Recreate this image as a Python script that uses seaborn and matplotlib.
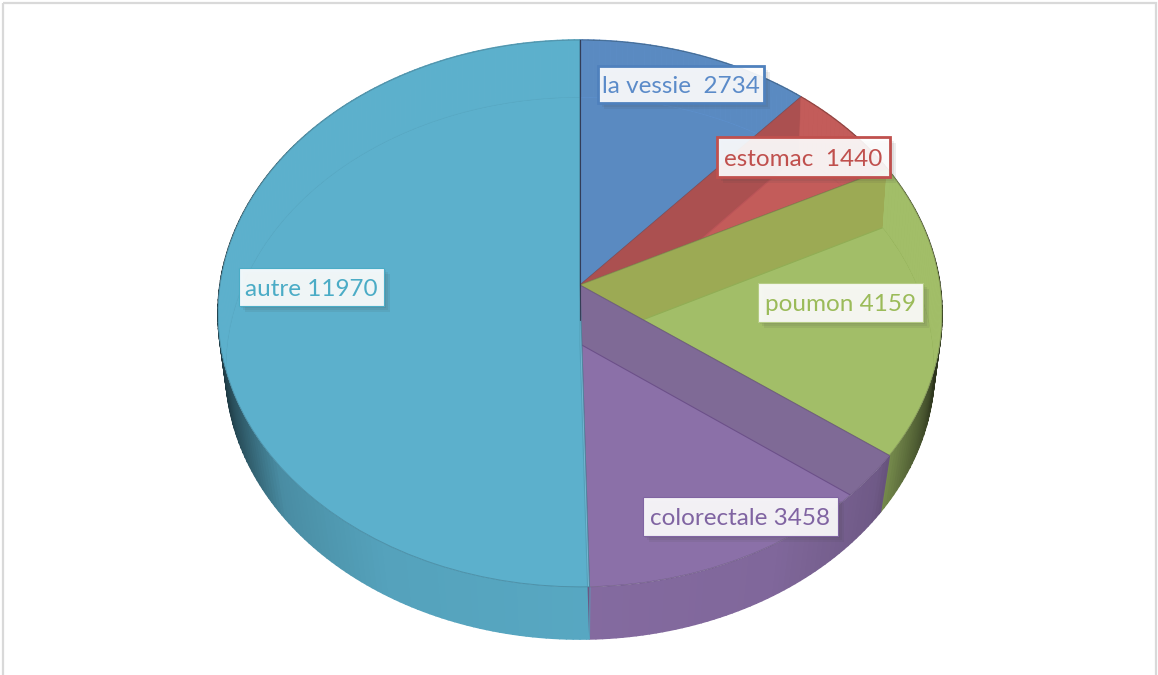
import numpy as np
import matplotlib
matplotlib.use("Agg")
import matplotlib.pyplot as plt
import matplotlib.transforms as mtransforms
import matplotlib.patheffects as pe
from matplotlib.collections import PolyCollection
from matplotlib.patches import Rectangle, Polygon
from matplotlib.path import Path
import seaborn as sns

# --- data ---
categories = ["la vessie", "estomac", "poumon", "colorectale", "autre"]
values = [2734, 1440, 4159, 3458, 11970]
label_texts = ["la vessie\u00a0 2734", "estomac\u00a0 1440", "poumon 4159", "colorectale 3458", "autre 11970"]

# --- style ---
face_rgb = [(91, 139, 194), (195, 92, 90), (162, 191, 105), (139, 112, 168), (92, 176, 204)]
under_rgb = [(30, 30, 10), (145, 90, 60), (175, 190, 160), (230, 220, 250), (92, 176, 204)]
text_colors = ["#5b8bc9", "#c0504d", "#9bbb59", "#8064a2", "#4bacc6"]
box_edges = ["#4f81bd", "#c0504d", "#b5cc85", "#8064a2", "#4bacc6"]
box_lw = [2.0, 2.0, 0.8, 0.8, 0.8]
box_extents = [(598, 764, 66, 103), (717, 890, 137, 177), (758, 923, 283, 322),
               (643, 838, 497, 536), (239, 384, 268, 306)]
TOP_ALPHA = 0.8

sns.set_theme(style="white")
plt.rcParams["font.family"] = ["Lato", "DejaVu Sans"]


class Projective(mtransforms.Transform):
    """Perspective view of the unit disc, output in pixel-like axis units."""
    input_dims = 2
    output_dims = 2
    is_separable = False
    has_inverse = False

    def __init__(self, cx, R, b, a, c):
        super().__init__()
        self.p = (cx, R, b, a, c)

    def transform_non_affine(self, values):
        v = np.asarray(values, dtype=float)
        cx, R, b, a, c = self.p
        d = c * v[:, 1] + 1
        return np.column_stack([cx + R * v[:, 0] / d, (a * v[:, 1] + b) / d])


top_view = Projective(580, 360, 285, -240.8, 0.104)
low_view = Projective(580, 353, 344, -238.4, 0.0886)


def unit(theta_deg):
    t = np.radians(theta_deg)
    return np.column_stack([np.cos(t), np.sin(t)])


fig = plt.figure(figsize=(11.58, 6.75), dpi=100, facecolor="white")
ax = fig.add_axes([0, 0, 1, 1])

to01 = lambda rgb: tuple(c / 255 for c in rgb)
top_rgb = [tuple(np.clip((np.array(f) - (1 - TOP_ALPHA) * np.array(u)) / TOP_ALPHA, 0, 255))
           for f, u in zip(face_rgb, under_rgb)]

# floor of the pie (seen through the translucent top)
low_wedges, _ = ax.pie(values, startangle=90, counterclock=False,
                       colors=[to01(c) for c in under_rgb])
# top of the pie
top_wedges, _ = ax.pie(values, startangle=90, counterclock=False,
                       colors=[to01(c) + (TOP_ALPHA,) for c in top_rgb])

c_top = top_view.transform_non_affine(np.array([[0.0, 0.0]]))[0]
c_low = low_view.transform_non_affine(np.array([[0.0, 0.0]]))[0]

for i, (lw_, tw) in enumerate(zip(low_wedges, top_wedges)):
    th = np.arange(tw.theta1, tw.theta2 + 1.0, 1.0)
    th = np.append(th[th < tw.theta2], tw.theta2)
    up = top_view.transform_non_affine(unit(th))
    dn = low_view.transform_non_affine(unit(th))

    # outline of this slice's top face: everything below it is clipped to it
    outline = np.vstack([c_top, up, c_top])
    clip = Path(outline, closed=True)

    # what the neighbouring slice contributes under this top face
    back = Polygon(outline, closed=True, facecolor=to01(under_rgb[i - 1]), edgecolor="none", zorder=2)
    ax.add_patch(back)

    lw_.set_transform(low_view + ax.transData)
    lw_.set_edgecolor(tuple(np.array(to01(face_rgb[i])) * 0.55))
    lw_.set_linewidth(0.8)
    lw_.set_zorder(2.2)
    lw_.set_clip_on(True)
    lw_.set_clip_path(clip, ax.transData)

    # walls: shaded outside the disc, plain colour seen through the top
    polys, shaded = [], []
    for k in range(len(th) - 1):
        polys.append([up[k], up[k + 1], dn[k + 1], dn[k]])
        mid = unit(np.array([(th[k] + th[k + 1]) / 2]))[0]
        f = np.interp(abs(mid[0]), [0, 0.5, 0.78, 0.93, 1.0], [0.95, 0.92, 0.8, 0.45, 0.25])
        shaded.append(tuple(np.array(to01(face_rgb[i])) * f))
    front = PolyCollection(polys, facecolors=shaded, edgecolors=shaded, linewidths=1.2, zorder=1)
    ax.add_collection(front, autolim=False)
    inner = PolyCollection(polys, facecolors=[to01(under_rgb[i])], edgecolors=[to01(under_rgb[i])],
                           linewidths=0.4, zorder=2.5)
    ax.add_collection(inner, autolim=False)
    inner.set_clip_path(clip, ax.transData)

    tw.set_transform(top_view + ax.transData)
    tw.set_edgecolor(tuple(np.array(to01(face_rgb[i])) * 0.75) + (0.7,))
    tw.set_linewidth(0.7)
    tw.set_zorder(3)

# colorectale seen through the wall beside the poumon boundary
edge_theta = top_wedges[3].theta1
e_pt = unit(np.array([edge_theta]))
r_t = top_view.transform_non_affine(e_pt)[0]
r_l = low_view.transform_non_affine(e_pt)[0]
ax.add_patch(Polygon([c_top, r_t, r_l, c_low], closed=True,
                     facecolor=tuple(np.array(to01(face_rgb[3])) * 0.78), edgecolor="none", zorder=1.5))

# dark seam between colorectale and autre
seam = top_wedges[-1].theta1
s_pt = unit(np.array([seam]))
r_top = top_view.transform_non_affine(s_pt)[0]
r_low = low_view.transform_non_affine(s_pt)[0]
ax.plot([c_top[0], r_top[0], r_low[0]], [c_top[1] + 35, r_top[1], r_low[1]],
        color="#2c2c44", lw=0.8, alpha=0.8, zorder=3.5)

# labels
shadow = [pe.SimplePatchShadow(offset=(o, -o), shadow_rgbFace="#444444", alpha=0.09) for o in (1.5, 3, 4.5)]
shadow.append(pe.Normal())
for txt, col, edge, lw_, (x0, x1, y0, y1) in zip(label_texts, text_colors, box_edges, box_lw, box_extents):
    r = Rectangle((x0, y0), x1 - x0, y1 - y0, facecolor=(1, 1, 1, 0.91), edgecolor=edge,
                  linewidth=lw_, zorder=5)
    r.set_path_effects(shadow)
    ax.add_patch(r)
    ax.text((x0 + x1) / 2, (y0 + y1) / 2, txt, color=col, fontsize=17.5, ha="center",
            va="center_baseline", zorder=6)

# outer frame of the chart area
ax.add_patch(Rectangle((3, 3), 1153, 720, facecolor="none", edgecolor="#d9d9d9", linewidth=1.6, zorder=0))

ax.set_aspect("auto")
ax.set_xlim(0, 1158)
ax.set_ylim(675, 0)
ax.set_axis_off()
fig.savefig("out.png", dpi=100, facecolor="white")
